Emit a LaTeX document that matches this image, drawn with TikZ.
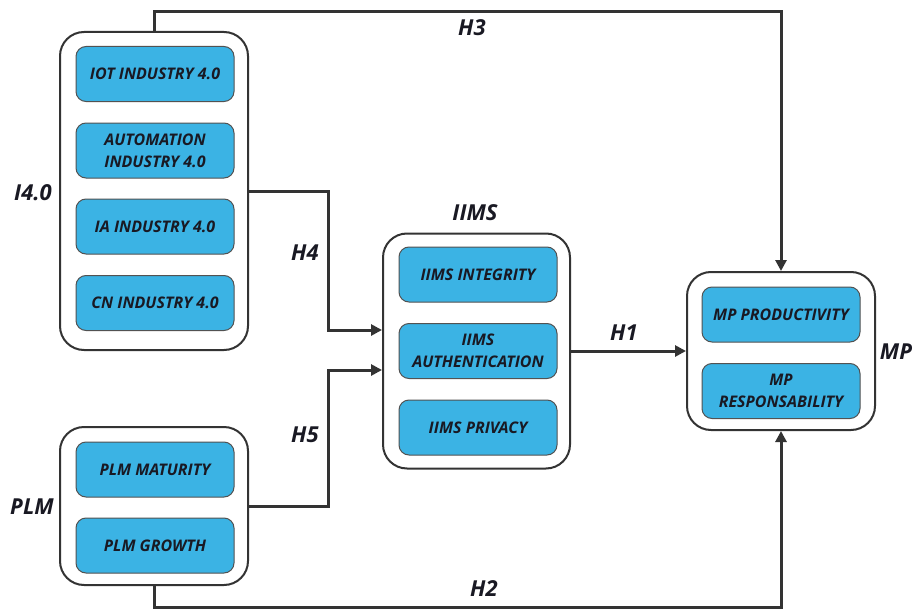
\documentclass[tikz,border=0pt]{standalone}
\usepackage{fontspec}
\setmainfont{Open Sans}
\usetikzlibrary{arrows.meta,positioning}
\definecolor{boxblue}{RGB}{59,179,228}
\definecolor{linec}{RGB}{51,51,51}
\definecolor{txtc}{RGB}{25,25,35}
\begin{document}
\begin{tikzpicture}[x=1pt,y=-1pt,
  outer/.style={draw=linec, line width=2pt, rounded corners=24pt, fill=white},
  inner/.style={draw=linec!85, line width=1pt, rounded corners=10pt, fill=boxblue,
    minimum width=158pt, minimum height=55pt, align=center, text=txtc,
    font=\fontsize{16}{22}\selectfont\bfseries\itshape, inner sep=2pt},
  lab/.style={text=txtc, font=\fontsize{22}{26}\selectfont\bfseries\itshape},
  conn/.style={draw=linec, line width=3pt},
  arr/.style={conn, -{Triangle[length=11pt,width=11pt]}}
]
\useasboundingbox (0,0) rectangle (916,610);
% outer boxes
\node[outer, minimum width=188pt, minimum height=318pt] (i40) at (154,191) {};
\node[outer, minimum width=187pt, minimum height=235pt] (iims) at (476.5,351) {};
\node[outer, minimum width=188pt, minimum height=158pt] (mp) at (781,351) {};
\node[outer, minimum width=188pt, minimum height=158pt] (plm) at (154,506) {};
% inner boxes
\node[inner] (iot) at (155,74) {IOT INDUSTRY 4.0};
\node[inner] (aut) at (155,150.5) {AUTOMATION\\INDUSTRY 4.0};
\node[inner] (ia) at (155,226.5) {IA INDUSTRY 4.0};
\node[inner] (cn) at (155,303) {CN INDUSTRY 4.0};
\node[inner] (integ) at (478,274.5) {IIMS INTEGRITY};
\node[inner] (auth) at (478,351) {IIMS\\AUTHENTICATION};
\node[inner] (priv) at (478,427.5) {IIMS PRIVACY};
\node[inner] (prod) at (781,314.5) {MP PRODUCTIVITY};
\node[inner] (resp) at (781,391) {MP\\RESPONSABILITY};
\node[inner] (mat) at (155,469.5) {PLM MATURITY};
\node[inner] (gro) at (155,545.5) {PLM GROWTH};
% group labels
\node[lab] (li40) at (33,193) {I4.0};
\node[lab] (liims) at (475,213) {IIMS};
\node[lab] (lmp) at (896,352) {MP};
\node[lab] (lplm) at (32,507) {PLM};
% connector helpers
\coordinate (h3c) at (781,12);
\coordinate (h2c) at (781,607);
\coordinate (k4) at (328,0);
\coordinate (in1) at ([yshift=21pt]iims.west);
\coordinate (in2) at ([yshift=-19pt]iims.west);
% connectors
\draw[arr] (i40.north) |- (h3c) -- (mp.north);
\draw[arr] (plm.south) |- (h2c) -- (mp.south);
\draw[arr] (i40.east) -- (i40.east -| k4) |- (in1);
\draw[arr] (plm.east) -- (plm.east -| k4) |- (in2);
\draw[arr] (iims.east) -- (mp.west);
% connector labels
\node[lab] (lh3) at (472,28) {H3};
\node[lab] (lh4) at (305,253) {H4};
\node[lab] (lh5) at (305,435) {H5};
\node[lab] (lh1) at (624,333) {H1};
\node[lab] (lh2) at (484,589) {H2};
\end{tikzpicture}
\end{document}
